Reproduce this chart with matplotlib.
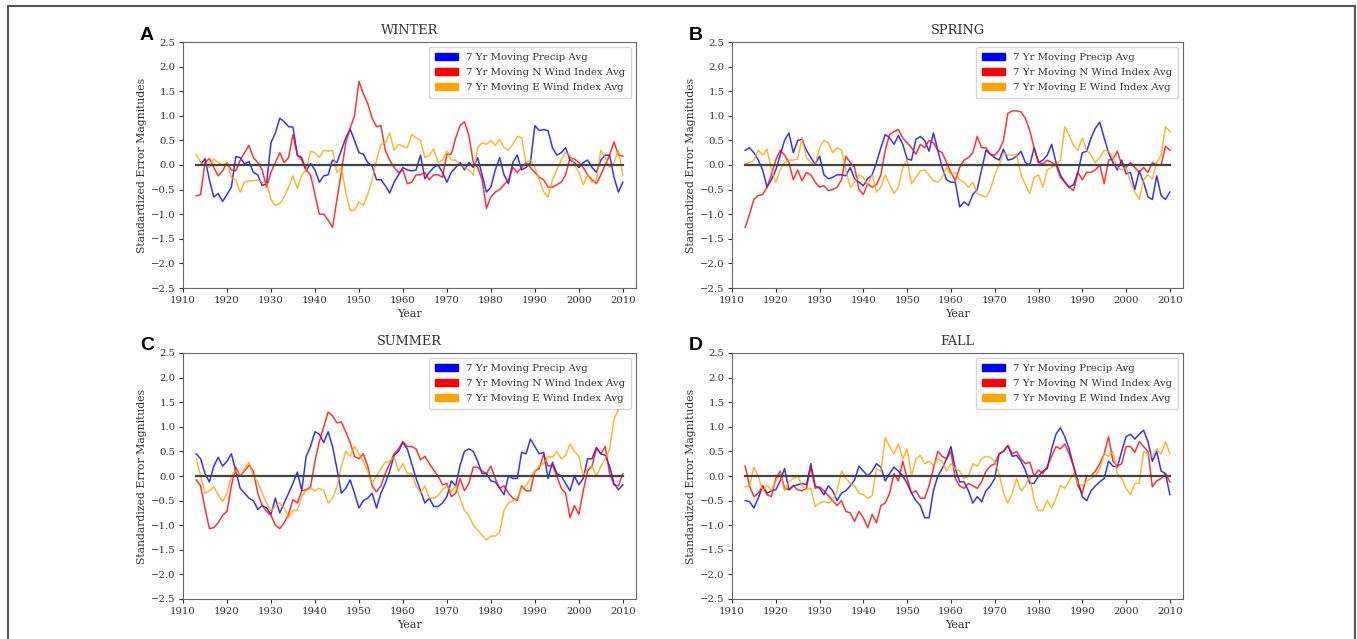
import matplotlib
matplotlib.use("Agg")
import matplotlib.pyplot as plt
import numpy as np
from matplotlib.patches import Patch, Rectangle

# years of the 7 yr moving averages
years = np.arange(1913, 2011)

# WINTER
winter_precip = [0.0, 0.0, 0.13, -0.3, -0.65, -0.58, -0.74, -0.6, -0.45, 0.17,
                 0.15, 0.02, 0.07, -0.15, -0.2, -0.42, -0.38, 0.45, 0.65, 0.95,
                 0.88, 0.78, 0.77, 0.2, 0.15, -0.12, 0.03, -0.1, -0.35, -0.22,
                 -0.2, 0.1, 0.05, 0.3, 0.55, 0.73, 0.5, 0.25, 0.22, 0.05,
                 -0.02, -0.3, -0.3, -0.42, -0.57, -0.35, -0.2, -0.05, -0.1, -0.12,
                 -0.1, 0.2, -0.28, -0.15, -0.05, 0.0, -0.15, -0.35, -0.15, -0.05,
                 0.05, -0.1, 0.05, -0.05, 0.15, -0.2, -0.55, -0.45, -0.1, 0.15,
                 -0.2, -0.38, 0.05, 0.2, -0.1, -0.05, 0.05, 0.8, 0.7, 0.72,
                 0.7, 0.35, 0.2, 0.25, 0.35, 0.1, 0.05, -0.05, 0.05, 0.1,
                 -0.05, -0.15, 0.1, 0.2, 0.2, -0.25, -0.55, -0.35]
winter_nwind = [-0.63, -0.6, 0.05, 0.13, -0.05, -0.22, -0.12, 0.05, -0.1, -0.12,
                0.1, 0.25, 0.4, 0.15, 0.05, -0.1, -0.45, -0.15, 0.05, 0.25,
                0.05, 0.15, 0.62, 0.2, 0.1, -0.1, -0.2, -0.6, -1.0, -1.0,
                -1.12, -1.27, -0.7, -0.15, 0.45, 0.75, 1.0, 1.7, 1.45, 1.25,
                0.95, 0.78, 0.8, 0.3, 0.1, -0.05, -0.15, -0.1, -0.38, -0.35,
                -0.2, -0.2, -0.15, -0.3, -0.2, -0.2, -0.25, 0.22, 0.22, 0.55,
                0.8, 0.88, 0.6, 0.05, -0.05, -0.3, -0.88, -0.65, -0.55, -0.5,
                -0.4, -0.3, -0.05, -0.15, -0.05, 0.05, -0.05, -0.15, -0.25, -0.3,
                -0.45, -0.45, -0.4, -0.35, -0.2, 0.15, 0.12, 0.05, -0.05, -0.2,
                -0.3, -0.38, -0.2, 0.0, 0.2, 0.47, 0.2, 0.18]
winter_ewind = [0.22, 0.05, 0.0, -0.05, 0.12, 0.05, 0.0, 0.05, -0.25, -0.3,
                -0.55, -0.35, -0.32, -0.32, -0.3, -0.35, -0.38, -0.7, -0.82, -0.78,
                -0.65, -0.45, -0.22, -0.48, -0.2, -0.1, 0.28, 0.25, 0.15, 0.3,
                0.28, 0.3, -0.15, -0.05, -0.55, -0.92, -0.92, -0.75, -0.82, -0.6,
                -0.3, 0.1, 0.42, 0.45, 0.65, 0.3, 0.42, 0.38, 0.35, 0.62,
                0.55, 0.5, 0.15, 0.2, 0.32, 0.05, 0.1, 0.28, 0.1, 0.1,
                0.0, -0.05, -0.1, -0.2, 0.35, 0.45, 0.42, 0.5, 0.4, 0.52,
                0.35, 0.3, 0.42, 0.58, 0.55, 0.05, 0.1, -0.05, -0.3, -0.55,
                -0.65, -0.3, -0.1, 0.1, 0.25, 0.2, 0.0, -0.15, -0.4, -0.2,
                -0.35, -0.3, 0.3, 0.15, -0.05, 0.05, 0.3, -0.2]

# SPRING
spring_precip = [0.3, 0.35, 0.25, 0.1, -0.1, -0.45, -0.3, -0.1, 0.2, 0.5,
                 0.65, 0.25, 0.5, 0.52, 0.3, 0.15, 0.02, 0.18, -0.2, -0.28,
                 -0.25, -0.2, -0.2, -0.22, -0.05, -0.28, -0.35, -0.42, -0.28, -0.2,
                 0.05, 0.35, 0.62, 0.55, 0.42, 0.6, 0.42, 0.12, 0.1, 0.52,
                 0.58, 0.5, 0.28, 0.65, 0.3, -0.05, -0.3, -0.35, -0.35, -0.85,
                 -0.75, -0.82, -0.6, -0.5, -0.1, 0.3, 0.22, 0.15, 0.1, 0.32,
                 0.1, 0.12, 0.18, 0.28, 0.05, 0.0, 0.35, 0.05, 0.1, 0.2,
                 0.42, 0.05, -0.2, -0.35, -0.45, -0.4, -0.15, 0.25, 0.28, 0.55,
                 0.75, 0.87, 0.55, 0.25, 0.05, -0.1, 0.1, -0.18, -0.15, -0.5,
                 -0.12, -0.35, -0.65, -0.7, -0.22, -0.62, -0.7, -0.55]
spring_nwind = [-1.27, -1.0, -0.7, -0.62, -0.6, -0.45, -0.2, 0.1, 0.3, 0.2,
                0.05, -0.3, -0.1, -0.32, -0.15, -0.2, -0.35, -0.45, -0.42, -0.52,
                -0.5, -0.45, -0.3, 0.18, 0.05, -0.05, -0.5, -0.6, -0.38, -0.45,
                -0.4, -0.2, 0.3, 0.62, 0.68, 0.72, 0.55, 0.45, 0.35, 0.22,
                0.42, 0.35, 0.5, 0.45, 0.3, 0.25, 0.05, -0.15, -0.32, -0.05,
                0.1, 0.15, 0.25, 0.58, 0.35, 0.35, 0.22, 0.2, 0.3, 0.5,
                1.05, 1.1, 1.1, 1.08, 0.95, 0.7, 0.35, 0.05, 0.02, 0.1,
                0.05, 0.0, -0.25, -0.35, -0.45, -0.52, -0.15, -0.3, -0.15, -0.15,
                -0.1, 0.0, -0.38, 0.1, 0.12, 0.28, 0.0, -0.05, 0.05, -0.05,
                -0.15, -0.05, -0.15, 0.05, 0.0, 0.0, 0.38, 0.3]
spring_ewind = [0.02, 0.05, 0.1, 0.3, 0.2, 0.32, -0.1, -0.35, -0.1, 0.05,
                0.1, 0.1, 0.12, 0.55, 0.15, 0.05, 0.0, 0.35, 0.5, 0.45,
                0.25, 0.35, 0.3, -0.1, -0.45, -0.35, -0.2, -0.25, -0.4, -0.2,
                -0.55, -0.45, -0.2, -0.4, -0.58, -0.45, -0.05, 0.1, -0.38, -0.25,
                -0.12, -0.1, -0.2, -0.32, -0.35, -0.25, -0.05, -0.2, -0.15, -0.3,
                -0.35, -0.45, -0.35, -0.58, -0.62, -0.65, -0.5, -0.2, 0.0, 0.25,
                0.2, 0.2, 0.22, -0.2, -0.4, -0.58, -0.25, -0.2, -0.45, -0.1,
                -0.05, 0.0, 0.1, 0.78, 0.6, 0.4, 0.3, 0.55, 0.3, 0.2,
                0.05, 0.15, 0.3, 0.28, 0.15, -0.05, -0.1, -0.05, -0.35, -0.55,
                -0.7, -0.3, -0.2, -0.28, 0.05, 0.2, 0.78, 0.68]

# SUMMER
summer_precip = [0.45, 0.35, 0.05, -0.12, 0.2, 0.38, 0.2, 0.3, 0.45, 0.1,
                 -0.25, -0.35, -0.45, -0.5, -0.68, -0.6, -0.65, -0.78, -0.45, -0.75,
                 -0.55, -0.35, -0.15, 0.08, -0.3, 0.4, 0.6, 0.9, 0.85, 0.68,
                 0.9, 0.6, 0.15, -0.35, -0.25, -0.08, -0.35, -0.65, -0.5, -0.45,
                 -0.35, -0.65, -0.35, -0.15, 0.1, 0.42, 0.5, 0.68, 0.55, 0.25,
                 -0.05, -0.3, -0.55, -0.45, -0.62, -0.62, -0.55, -0.42, -0.1, -0.2,
                 0.22, 0.5, 0.55, 0.5, 0.3, 0.05, 0.05, -0.1, -0.12, -0.25,
                 -0.38, 0.0, -0.05, -0.05, 0.48, 0.45, 0.75, 0.6, 0.45, 0.48,
                 -0.05, 0.28, 0.05, 0.0, -0.15, -0.3, 0.0, -0.18, -0.05, 0.35,
                 0.35, 0.58, 0.45, 0.42, 0.2, -0.15, -0.28, -0.18]
summer_nwind = [-0.08, -0.2, -0.65, -1.07, -1.05, -0.95, -0.8, -0.72, -0.2, 0.18,
                0.0, 0.1, 0.22, 0.1, -0.35, -0.6, -0.72, -0.8, -1.0, -1.07,
                -0.95, -0.78, -0.48, -0.55, -0.3, -0.28, -0.22, 0.3, 0.7, 1.0,
                1.3, 1.22, 1.08, 1.1, 0.9, 0.68, 0.4, 0.35, 0.45, 0.2,
                -0.2, -0.32, -0.2, 0.05, 0.25, 0.45, 0.55, 0.7, 0.6, 0.6,
                0.55, 0.33, 0.4, 0.25, 0.12, 0.0, -0.18, -0.15, -0.42, -0.35,
                -0.05, -0.3, -0.15, 0.18, 0.18, 0.1, 0.05, 0.2, -0.05, -0.25,
                -0.2, -0.35, -0.45, -0.5, -0.2, -0.3, -0.3, 0.1, 0.15, 0.45,
                0.2, 0.22, 0.0, -0.25, -0.35, -0.85, -0.6, -0.78, -0.3, 0.1,
                0.2, 0.55, 0.45, 0.6, 0.05, -0.18, -0.2, 0.05]
summer_ewind = [0.35, 0.0, -0.35, -0.3, -0.22, -0.38, -0.52, -0.35, 0.0, 0.12,
                0.0, 0.15, 0.28, 0.0, -0.12, -0.35, -0.55, -0.72, -0.6, -0.55,
                -0.65, -0.85, -0.7, -0.7, -0.4, -0.3, -0.25, -0.3, -0.25, -0.3,
                -0.55, -0.45, -0.22, 0.2, 0.5, 0.4, 0.6, 0.45, 0.3, 0.1,
                -0.15, 0.0, 0.15, 0.28, 0.3, 0.38, 0.1, 0.25, 0.05, 0.05,
                -0.2, -0.35, -0.2, -0.45, -0.45, -0.4, -0.28, -0.2, -0.32, -0.2,
                -0.45, -0.7, -0.8, -1.0, -1.1, -1.2, -1.3, -1.22, -1.22, -1.15,
                -0.7, -0.55, -0.5, -0.45, -0.25, -0.2, -0.05, 0.1, 0.2, 0.25,
                0.4, 0.38, 0.5, 0.35, 0.42, 0.65, 0.5, 0.4, 0.0, 0.15,
                0.2, 0.0, 0.2, 0.35, 0.55, 1.15, 1.35, 1.65]

# FALL
fall_precip = [-0.5, -0.52, -0.65, -0.45, -0.2, -0.35, -0.3, -0.28, -0.1, 0.15,
               -0.28, -0.2, -0.18, -0.15, -0.18, 0.25, -0.2, -0.25, -0.38, -0.2,
               -0.3, -0.5, -0.35, -0.3, -0.2, -0.08, 0.2, 0.1, 0.0, 0.1,
               0.25, 0.18, -0.1, 0.05, 0.18, 0.1, 0.0, -0.15, -0.35, -0.5,
               -0.6, -0.85, -0.85, -0.3, 0.0, 0.15, 0.35, 0.6, 0.15, -0.12,
               -0.12, -0.3, -0.55, -0.42, -0.52, -0.3, -0.2, -0.05, 0.45, 0.5,
               0.62, 0.4, 0.42, 0.3, 0.12, -0.15, -0.15, 0.0, 0.1, 0.15,
               0.55, 0.85, 0.98, 0.8, 0.55, 0.2, -0.1, -0.42, -0.5, -0.3,
               -0.2, -0.12, -0.05, 0.3, 0.2, 0.18, 0.5, 0.8, 0.85, 0.75,
               0.85, 0.93, 0.7, 0.3, 0.5, 0.1, 0.05, -0.38]
fall_nwind = [0.2, -0.2, -0.42, -0.35, -0.2, -0.38, -0.42, -0.05, 0.1, -0.25,
              -0.28, -0.2, -0.28, -0.3, -0.25, 0.18, -0.25, -0.22, -0.3, -0.4,
              -0.5, -0.6, -0.5, -0.72, -0.75, -0.92, -0.72, -0.85, -1.05, -0.78,
              -0.95, -0.6, -0.55, -0.35, 0.05, -0.1, 0.3, -0.05, -0.35, -0.3,
              -0.45, -0.45, -0.2, 0.15, 0.5, 0.4, 0.35, 0.5, -0.05, -0.2,
              -0.25, -0.15, -0.2, -0.25, -0.12, 0.1, 0.2, 0.25, 0.45, 0.5,
              0.62, 0.45, 0.5, 0.35, 0.25, 0.28, 0.0, 0.12, 0.05, 0.2,
              0.4, 0.6, 0.55, 0.65, 0.45, 0.2, -0.2, -0.35, 0.0, 0.0,
              0.1, 0.25, 0.45, 0.8, 0.3, 0.2, 0.25, 0.6, 0.6, 0.48,
              0.7, 0.6, 0.5, -0.22, -0.1, -0.05, 0.05, -0.12]
fall_ewind = [-0.22, -0.2, 0.18, 0.0, -0.3, -0.18, -0.3, -0.1, 0.05, -0.3,
              -0.12, -0.05, 0.0, -0.2, -0.28, -0.25, -0.62, -0.55, -0.52, -0.55,
              -0.5, -0.3, 0.1, -0.05, -0.15, -0.2, -0.35, -0.38, -0.45, -0.4,
              0.15, 0.1, 0.78, 0.6, 0.45, 0.65, 0.35, 0.55, 0.0, 0.35,
              0.42, 0.25, 0.3, 0.22, 0.35, 0.3, 0.1, 0.25, 0.15, 0.1,
              -0.05, 0.0, 0.25, 0.2, 0.35, 0.4, 0.38, 0.3, 0.05, -0.35,
              -0.55, -0.35, -0.05, -0.3, -0.2, 0.0, -0.5, -0.7, -0.7, -0.5,
              -0.65, -0.45, -0.2, -0.25, -0.1, 0.05, -0.15, -0.2, -0.1, -0.05,
              0.0, 0.15, 0.45, 0.4, 0.5, 0.05, -0.05, -0.25, -0.38, -0.15,
              -0.15, 0.5, 0.45, 0.4, 0.55, 0.45, 0.7, 0.45]

panels = [
    ("A", "WINTER", winter_precip, winter_nwind, winter_ewind),
    ("B", "SPRING", spring_precip, spring_nwind, spring_ewind),
    ("C", "SUMMER", summer_precip, summer_nwind, summer_ewind),
    ("D", "FALL", fall_precip, fall_nwind, fall_ewind),
]
labels = ["7 Yr Moving Precip Avg", "7 Yr Moving N Wind Index Avg",
          "7 Yr Moving E Wind Index Avg"]
colors = ["blue", "red", "orange"]

plt.rcParams["font.family"] = "DejaVu Serif"
txt = "#333333"

W, H = 1357, 639
fig = plt.figure(figsize=(W / 100, H / 100), dpi=100)

# axes boxes in pixels: left, top, right, bottom
boxes = [(183, 42, 636, 288), (732, 42, 1183, 288),
         (183, 353, 636, 599), (732, 353, 1183, 599)]

for (letter, title, p, n, e), (l, t, r, b) in zip(panels, boxes):
    ax = fig.add_axes([l / W, 1 - b / H, (r - l) / W, (b - t) / H])
    ax.plot(years, p, color=colors[0], lw=1.1, alpha=0.8)
    ax.plot(years, n, color=colors[1], lw=1.1, alpha=0.8)
    ax.plot(years, e, color=colors[2], lw=1.1, alpha=0.8)
    ax.plot([years[0], years[-1]], [0, 0], color="#444444", lw=1.6)
    ax.set_xlim(1910, 2013)
    ax.set_ylim(-2.5, 2.5)
    ax.set_xticks(np.arange(1910, 2011, 10))
    ax.set_yticks(np.arange(-2.5, 2.51, 0.5))
    ax.tick_params(labelsize=7.3, colors=txt, length=3, pad=2.5)
    for s in ax.spines.values():
        s.set_color("#666666")
    ax.set_title(title, fontsize=9.3, color=txt, pad=6)
    ax.set_xlabel("Year", fontsize=8, color=txt, labelpad=3)
    ax.set_ylabel("Standardized Error Magnitudes", fontsize=7.8, color=txt,
                  labelpad=3)
    handles = [Patch(color=c, label=lb) for c, lb in zip(colors, labels)]
    leg = ax.legend(handles=handles, loc="upper right", fontsize=7.3,
                    handlelength=2.3, labelspacing=0.6, borderpad=0.55,
                    framealpha=0.8)
    for tx in leg.get_texts():
        tx.set_color(txt)
    fig.text((l - 36) / W, 1 - (t - 7) / H, letter, fontsize=14,
             fontweight="bold", family="Liberation Sans", ha="center", va="center")

# outer frame of the figure panel
fig.patches.append(Rectangle((8 / W, -0.02), (1355 - 8) / W, 1.02 - 6 / H,
                             transform=fig.transFigure, fill=False,
                             edgecolor="#555555", lw=1.5))

fig.savefig("out.png", dpi=100)
